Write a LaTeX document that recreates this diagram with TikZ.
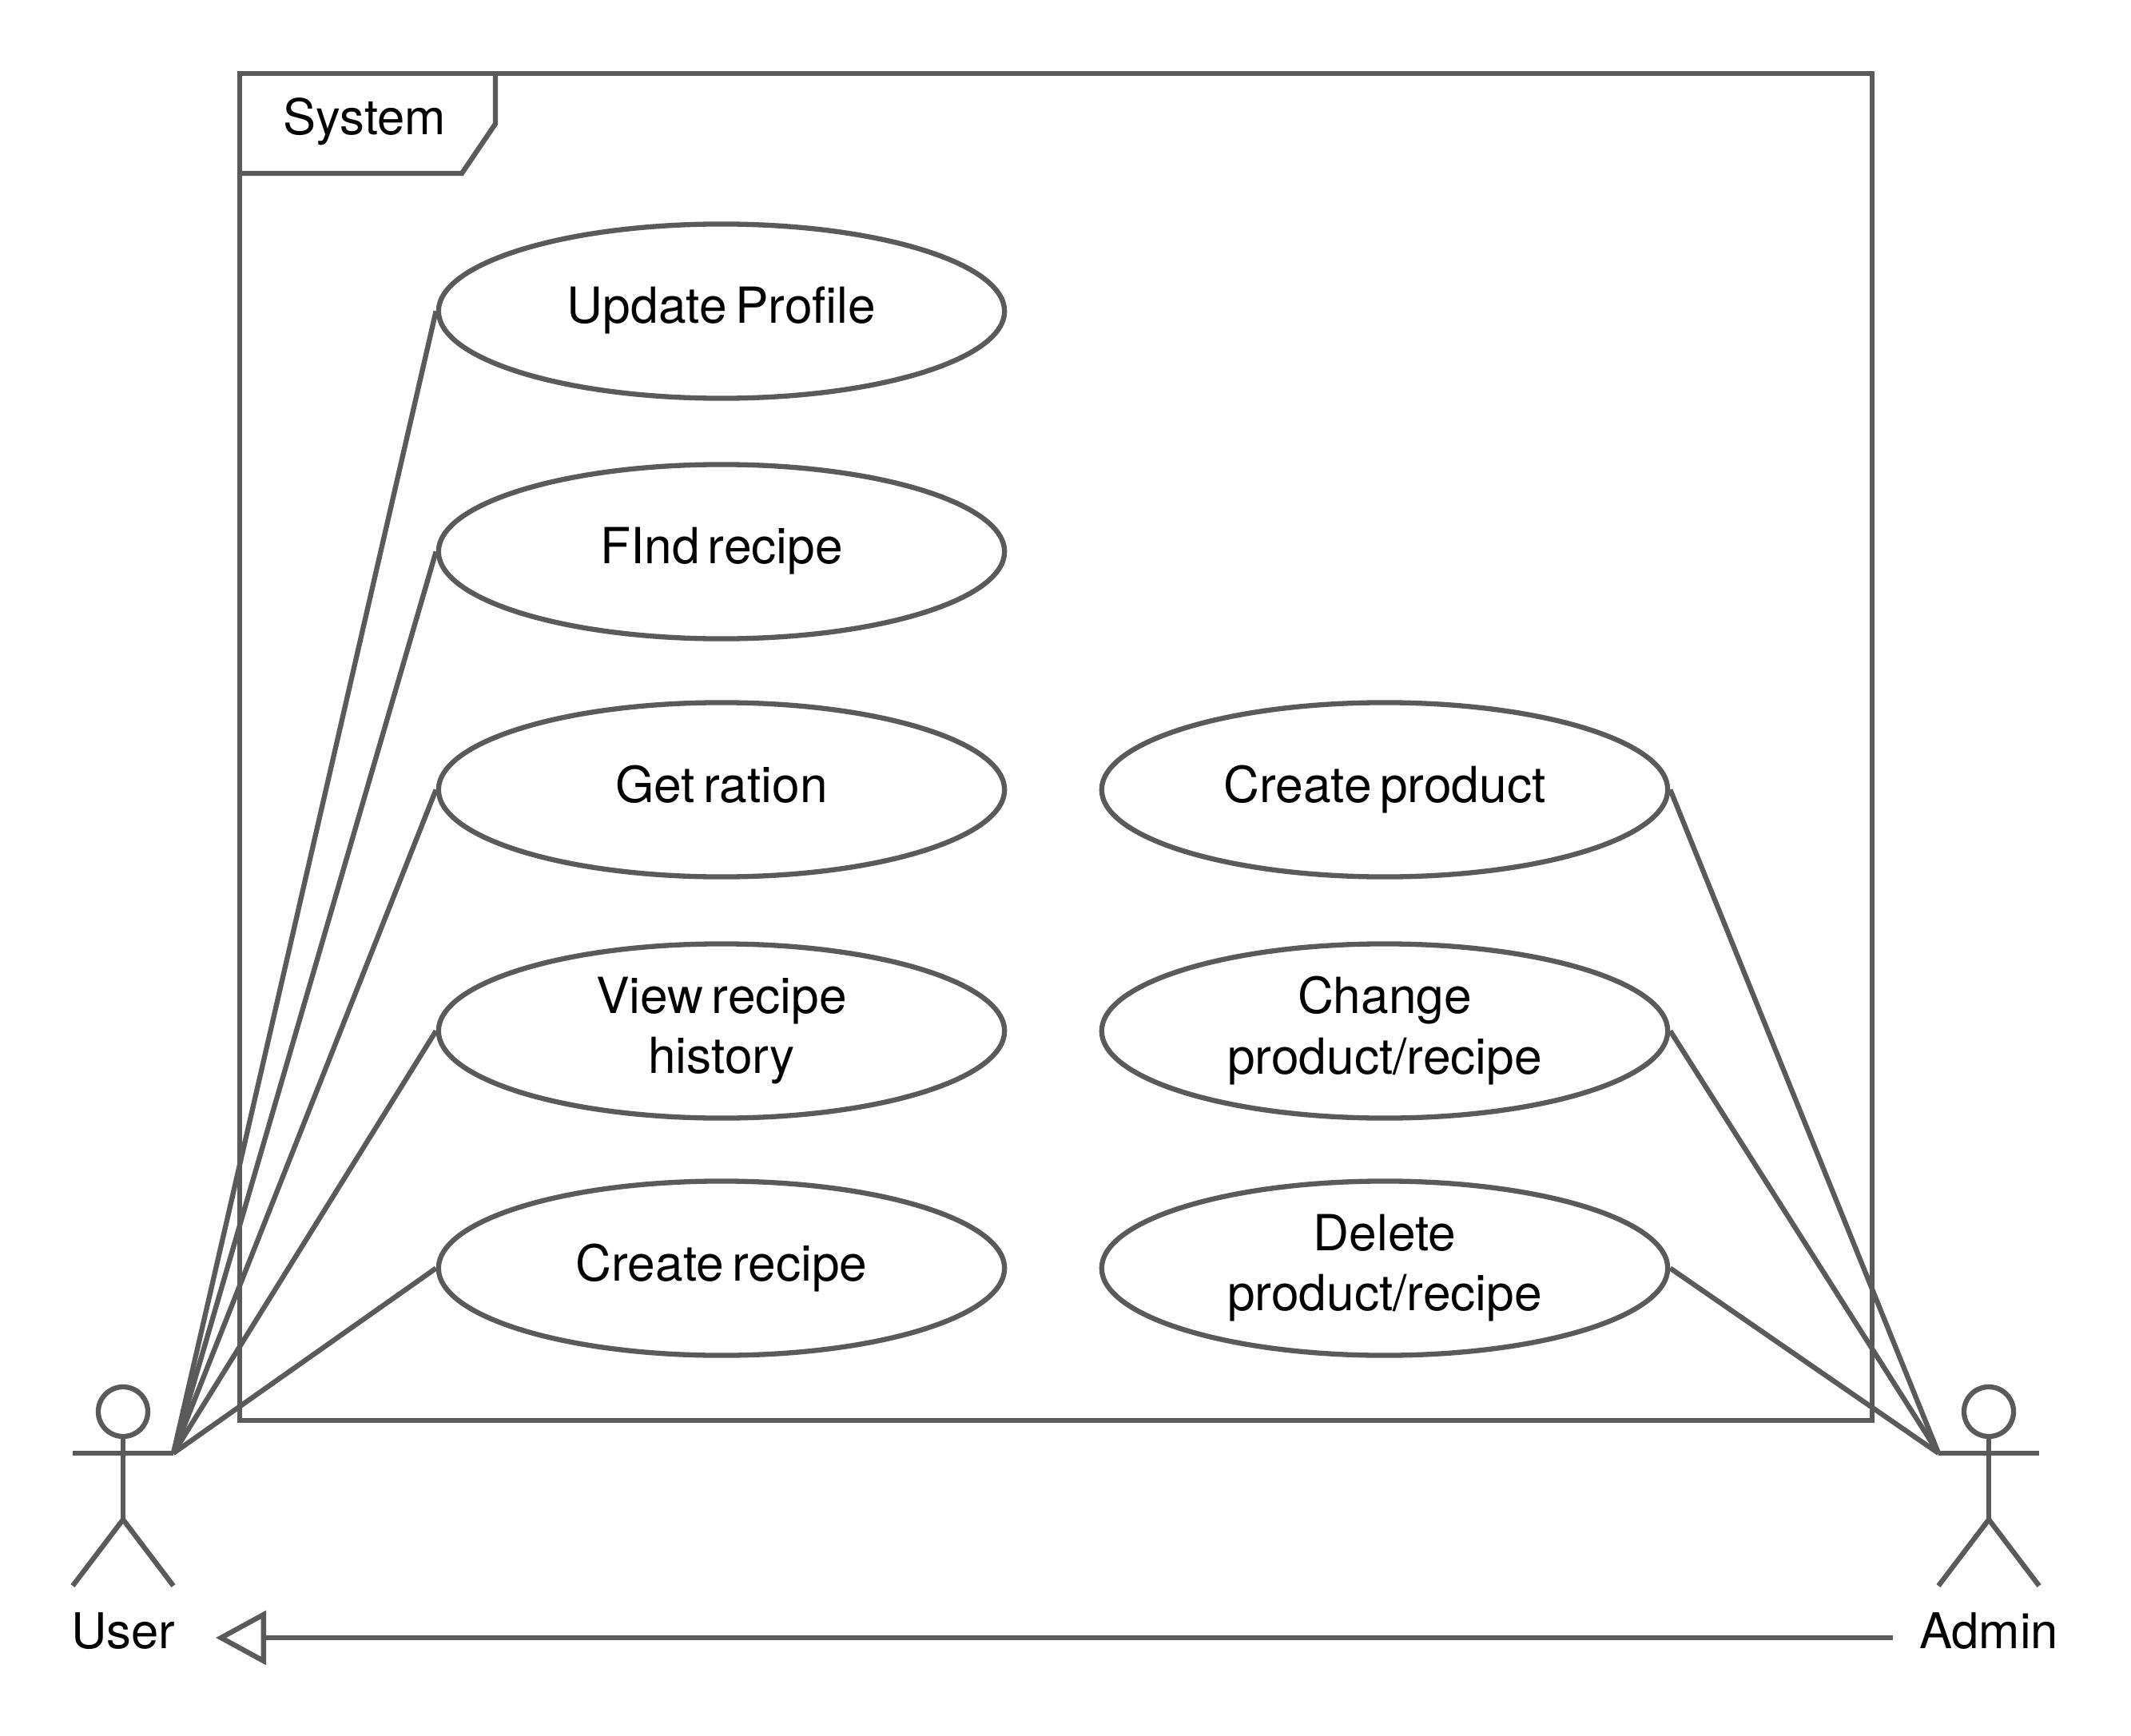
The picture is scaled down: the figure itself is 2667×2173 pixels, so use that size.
\documentclass[tikz,border=0pt]{standalone}
\usepackage{fontspec}
\setmainfont[WordSpace=0.6]{TeX Gyre Heros}
\usetikzlibrary{shapes.geometric}
\usetikzlibrary{arrows.meta}
\definecolor{linegray}{RGB}{90,90,90}
\newcommand{\ucstrut}{\rule[-4.2pt]{0pt}{15.7pt}}
\tikzset{
  uml/.style={draw=linegray,line width=0.63mm},
  usecase/.style={uml,ellipse,minimum width=7.08cm,minimum height=2.18cm,inner sep=0pt,align=center,font=\fontsize{17.7}{21.4}\selectfont,execute at begin node=\ucstrut,execute at end node=\ucstrut},
  lbl/.style={inner sep=0pt,font=\fontsize{17.5}{21}\selectfont,anchor=base}
}

\begin{document}
\begin{tikzpicture}[x=0.01cm,y=-0.01cm]
  \def\lx{903};
  \def\rx{1733};
  \def\rowa{389.5};
  \def\rowb{690.5};
  \def\rowc{988.5};
  \def\rowd{1290.5};
  \def\rowe{1587.5};
  \useasboundingbox (0,0) rectangle (2667,2173);
  %frame
  \draw[uml] (300,92) rectangle (2343,1778);
  \draw[uml] (300,217)--(578,217)--(620,155)--(620,92);
  \node[lbl] (system) at (456,169) {System};
  %use cases
  \node[usecase] (profile) at (\lx,\rowa) {Update Profile};
  \node[usecase] (find) at (\lx,\rowb) {FInd recipe};
  \node[usecase] (ration) at (\lx,\rowc) {Get ration};
  \node[usecase] (history) at (\lx,\rowd) {View recipe\\history};
  \node[usecase] (recipe) at (\lx,\rowe) {Create recipe};
  \node[usecase] (product) at (\rx,\rowc) {Create product};
  \node[usecase] (change) at (\rx,\rowd) {Change\\product/recipe};
  \node[usecase] (delete) at (\rx,\rowe) {Delete\\product/recipe};
  %actors
  \foreach \cx/\nm in {154/User,2489/Admin}{
    \draw[uml] (\cx,1767) circle [radius=0.31cm];
    \draw[uml] (\cx,1798)--(\cx,1902);
    \draw[uml] (\cx-63,1819)--(\cx+63,1819);
    \draw[uml] (\cx-63,1985)--(\cx,1902)--(\cx+63,1985);
    \node[lbl] (\nm) at (\cx,2063) {\nm};
  }
  \coordinate (userhand) at (217,1819);
  \coordinate (adminhand) at (2426,1819);
  \foreach \uc in {profile,find,ration,history,recipe}{
    \draw[uml] (userhand)--(\uc.west);
  }
  \foreach \uc in {product,change,delete}{
    \draw[uml] (adminhand)--(\uc.east);
  }
  %generalization
  \coordinate (admintail) at (2369,2050);
  \coordinate (usertip) at (270,2050);
  \draw[uml,-{Triangle[open,length=0.63cm,width=0.67cm]}] (admintail)--(usertip);
\end{tikzpicture}
\end{document}
